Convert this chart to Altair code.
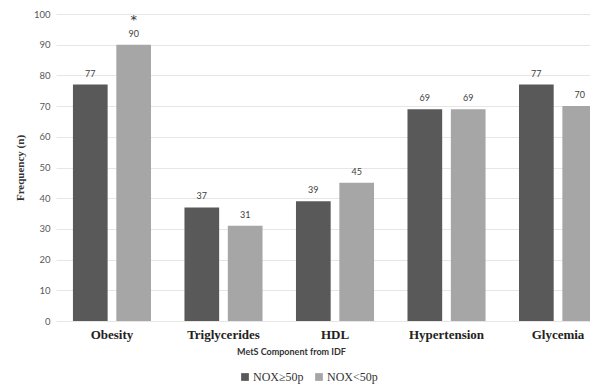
import altair as alt
import pandas as pd

categories = ["Obesity", "Triglycerides", "HDL", "Hypertension", "Glycemia"]
series = ["NOX≥50p", "NOX<50p"]
high_vals = [77, 37, 39, 69, 77]
low_vals = [90, 31, 45, 69, 70]
star_category = "Obesity"
star_series = "NOX<50p"
star_value = 90
y_ticks = list(range(0, 101, 10))

rows = []
for c, h, l in zip(categories, high_vals, low_vals):
    rows.append({"cat": c, "grp": series[0], "val": h})
    rows.append({"cat": c, "grp": series[1], "val": l})
df = pd.DataFrame(rows)
star_df = pd.DataFrame([{"cat": star_category, "grp": star_series, "val": star_value, "t": "*"}])

colors = ["#595959", "#a6a6a6"]

x_enc = alt.X(
    "cat:N",
    sort=categories,
    scale=alt.Scale(range=[0, 558], paddingInner=0.3, paddingOuter=0.152),
    axis=alt.Axis(
        title="MetS Component from IDF",
        titleFont="Lato", titleFontSize=9, titleFontWeight="bold", titleColor="#333333",
        titleX=235, titleY=30, titleAlign="center", titleBaseline="middle",
        labelFont="Liberation Serif", labelFontSize=13, labelFontWeight="bold",
        labelColor="#222222", labelPadding=7, labelAngle=0,
        ticks=False, domain=False, grid=False,
    ),
)
xoff = alt.XOffset("grp:N", sort=series, scale=alt.Scale(paddingInner=0.2, paddingOuter=0))

y_enc = alt.Y(
    "val:Q",
    scale=alt.Scale(domain=[0, 100], nice=False),
    axis=alt.Axis(
        values=y_ticks,
        labelOverlap=False,
        title="Frequency (n)",
        titleFont="Liberation Serif", titleFontSize=11, titleFontWeight="bold",
        titleColor="#333333", titlePadding=8,
        labelFont="Lato", labelFontSize=9.5, labelColor="#595959", labelPadding=6,
        ticks=False, domain=False,
        grid=True, gridColor="#e6e6e6", gridWidth=1,
    ),
)

base = alt.Chart(df).encode(x=x_enc, xOffset=xoff, y=y_enc)

bars = base.mark_bar().encode(
    color=alt.Color(
        "grp:N",
        sort=series,
        scale=alt.Scale(domain=series, range=colors),
        legend=alt.Legend(
            title=None, orient="none", direction="horizontal",
            legendX=183, legendY=357,
            symbolType="square", symbolSize=60, symbolStrokeWidth=0,
            labelFont="Liberation Serif", labelFontSize=12, labelColor="#333333",
            labelOffset=2, columnPadding=9,
        ),
    ),
)

labels = base.mark_text(
    baseline="middle", dy=-11, font="Lato", fontSize=9, color="#404040"
).encode(text="val:Q")

star = alt.Chart(star_df).mark_text(
    baseline="middle", dy=-25, font="DejaVu Sans", fontSize=13, color="#333333"
).encode(x=x_enc, xOffset=xoff, y=y_enc, text="t:N")

chart = alt.layer(bars, labels, star).properties(
    width=534, height=307,
    padding={"left": 48, "top": 6, "right": 0, "bottom": 64},
    autosize="none",
).configure_view(stroke=None)

chart.save("out.html", embed_options={"renderer": "svg", "actions": False})
